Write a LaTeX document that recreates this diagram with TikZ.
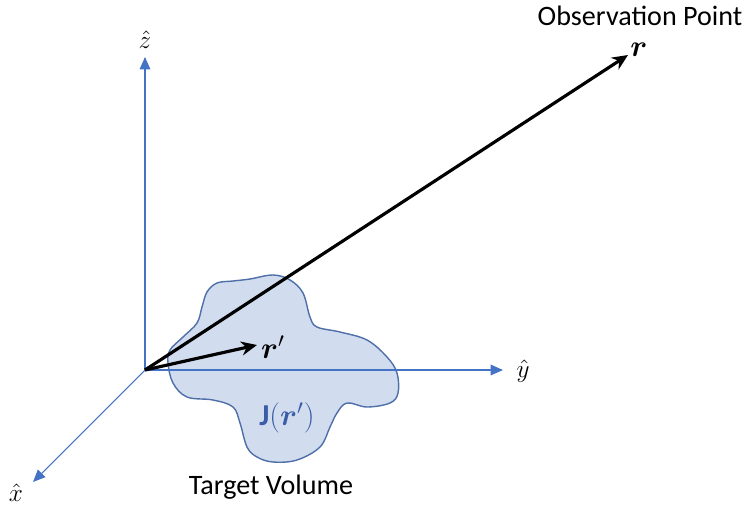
\documentclass[tikz,border=0pt]{standalone}
\usepackage{fontspec}
\setmainfont{Carlito}
\usepackage{amsmath,bm}
\usetikzlibrary{arrows.meta}
\definecolor{axisblue}{HTML}{4472C4}
\definecolor{blobfill}{HTML}{D1DCEF}
\definecolor{blobline}{HTML}{4F6FA8}
\definecolor{labelblue}{HTML}{3A5DA8}

\begin{document}
\begin{tikzpicture}[x=0.02cm, y=-0.02cm, >=Stealth, font=\large,
  ax/.style={axisblue, line width=0.6pt, -{Triangle[length=7pt, width=6pt]}},
  vec/.style={black, line width=1.8pt, -{Stealth[length=9pt, width=8pt]}},
  axlabel/.style={font=\Large},
  caption/.style={font=\fontsize{16}{18}\selectfont, inner sep=1pt}]
\useasboundingbox (0,0) rectangle (748,508);

% Target volume (irregular blob)
\draw[blobline, fill=blobfill, line width=0.8pt] plot[smooth cycle, tension=0.6] coordinates {
  (207,292) (217,283) (233,281) (250,279) (273,275) (290,280) (303,293) (310,317)
  (317,327) (340,332) (367,340) (387,357) (397,373) (398,393) (390,403) (367,407)
  (347,403) (337,413) (330,427) (320,447) (297,460) (273,462) (257,457) (247,447)
  (240,423) (233,407) (213,400) (187,397) (173,383) (168,363) (170,350) (183,337)
  (197,323) (202,307)};

% Axes
\coordinate (O) at (145,370);
\coordinate (zend) at (145,57);
\coordinate (yend) at (503,370);
\coordinate (xend) at (33,482);
\draw[ax] (O) -- (zend);
\draw[ax] (O) -- (yend);
\draw[ax] (O) -- (xend);
\node[axlabel] (zlab) at (145,40) {$\hat{z}$};
\node[axlabel] (ylab) at (523,371) {$\hat{y}$};
\node[axlabel] (xlab) at (16,493) {$\hat{x}$};

% Position vectors
\coordinate (rend) at (628,55);
\coordinate (rpend) at (257,345);
\draw[vec] (O) -- (rend);
\draw[vec] (O) -- (rpend);
\node[font=\LARGE, inner sep=0pt] (rlab) at (639,50) {$\bm{r}$};
\node[font=\LARGE] (rplab) at (273,347) {$\bm{r}'$};
\node[caption] (obs) at (640,16) {Observation Point};

% Labels inside / below the volume
\node[labelblue, font=\LARGE] (jlab) at (287,418) {\textbf{J}$(\bm{r}')$};
\node[caption] (tvlab) at (271,487) {Target Volume};

\end{tikzpicture}
\end{document}
